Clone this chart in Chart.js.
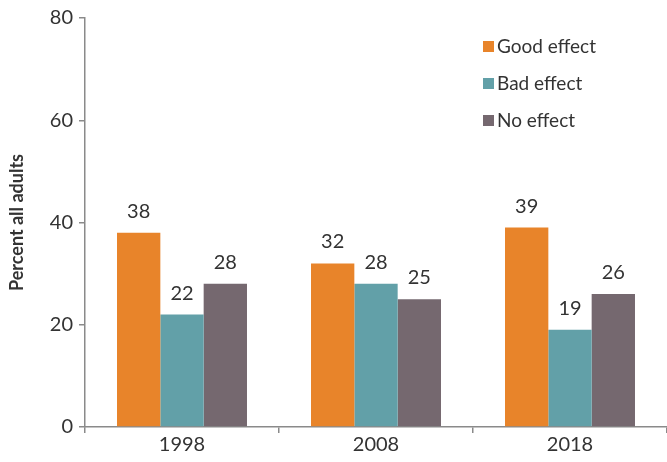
<!DOCTYPE html>
<html lang="en">
  <head>
    <meta charset="UTF-8" />
    <title>Effect on society</title>
    <script src="https://cdn.jsdelivr.net/npm/chart.js"></script>
    <style>
      html, body { margin: 0; padding: 0; background: #fff; }
      #wrap { width: 667px; height: 462px; }
    </style>
  </head>
  <body>
    <div id="wrap"><canvas id="myChart"></canvas></div>

    <script>
      const years = ['1998', '2008', '2018'];
      const goodEffect = [38, 32, 39];
      const badEffect = [22, 28, 19];
      const noEffect = [28, 25, 26];
      const yTicks = [0, 20, 40, 60, 80];

      const textColor = '#333333';
      const axisColor = '#8a8a8a';
      const fontFamily = 'Lato, "Open Sans", sans-serif';

      // value labels on top of each bar
      const valueLabels = {
        id: 'valueLabels',
        afterDatasetsDraw(chart) {
          const ctx = chart.ctx;
          ctx.save();
          ctx.font = '20px ' + fontFamily;
          ctx.fillStyle = textColor;
          ctx.textAlign = 'center';
          ctx.textBaseline = 'alphabetic';
          chart.data.datasets.forEach((ds, i) => {
            chart.getDatasetMeta(i).data.forEach((bar, j) => {
              ctx.fillText(ds.data[j], bar.x, bar.y - 15);
            });
          });
          ctx.restore();
        }
      };

      // legend drawn in the top right corner of the plot
      const cornerLegend = {
        id: 'cornerLegend',
        afterDraw(chart) {
          const ctx = chart.ctx;
          ctx.save();
          ctx.font = '19px ' + fontFamily;
          ctx.textBaseline = 'middle';
          chart.data.datasets.forEach((ds, i) => {
            const y = 46 + i * 37;
            ctx.fillStyle = ds.backgroundColor;
            ctx.fillRect(483, y - 5, 11, 11);
            ctx.fillStyle = textColor;
            ctx.fillText(ds.label, 497, y + 1);
          });
          ctx.restore();
        }
      };

      const ctx = document.getElementById('myChart').getContext('2d');
      new Chart(ctx, {
        type: 'bar',
        data: {
          labels: years,
          datasets: [
            { label: 'Good effect', data: goodEffect, backgroundColor: '#E8842A' },
            { label: 'Bad effect', data: badEffect, backgroundColor: '#62A0A8' },
            { label: 'No effect', data: noEffect, backgroundColor: '#75686F' }
          ]
        },
        options: {
          responsive: true,
          maintainAspectRatio: false,
          animation: false,
          layout: { padding: { top: 11, right: 0, left: 0, bottom: 0 } },
          plugins: {
            legend: { display: false },
            tooltip: { enabled: false }
          },
          datasets: {
            bar: { categoryPercentage: 0.67, barPercentage: 1.0 }
          },
          scales: {
            x: {
              border: { color: axisColor, width: 1.5 },
              grid: { drawOnChartArea: false, drawTicks: true, tickLength: 6, color: axisColor, lineWidth: 1.5 },
              ticks: { color: textColor, font: { family: fontFamily, size: 20 }, padding: 0 },
              afterFit(scale) { scale.height = 35; }
            },
            y: {
              min: 0,
              max: 80,
              afterBuildTicks(scale) { scale.ticks = yTicks.map(v => ({ value: v })); },
              border: { color: axisColor, width: 1.5 },
              grid: { drawOnChartArea: false, drawTicks: true, tickLength: 6, color: axisColor, lineWidth: 1.5 },
              ticks: { color: textColor, font: { family: fontFamily, size: 20 }, padding: 6 },
              title: {
                display: true,
                text: 'Percent all adults',
                color: textColor,
                font: { family: fontFamily, size: 18, weight: 'bold' },
                padding: { top: 6, bottom: 0 }
              },
              afterFit(scale) { scale.width = 85; }
            }
          }
        },
        plugins: [valueLabels, cornerLegend]
      });
    </script>
  </body>
</html>
